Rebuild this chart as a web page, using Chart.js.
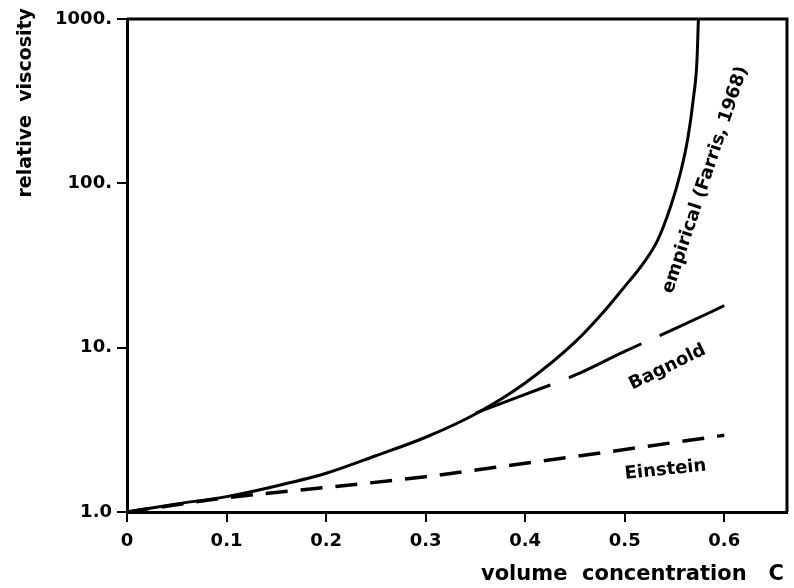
<!DOCTYPE html>
<html>
<head>
<meta charset="utf-8">
<script src="https://cdn.jsdelivr.net/npm/chart.js@4"></script>
<style>
  html, body { margin: 0; padding: 0; background: #fff; }
  #wrap { width: 794px; height: 588px; }
</style>
</head>
<body>
<div id="wrap"><canvas id="c" width="794" height="588"></canvas></div>
<script>
// ---- data ----
const empiricalC = [0, 0.05, 0.1, 0.15, 0.2, 0.25, 0.3, 0.35, 0.4, 0.45, 0.478, 0.503, 0.516, 0.533, 0.546, 0.556, 0.5635, 0.569, 0.5725, 0.574];
const empiricalV = [1, 1.12, 1.24, 1.44, 1.72, 2.2, 2.85, 3.95, 6.1, 10.8, 16.3, 24.8, 31, 45, 72, 116, 190, 330, 550, 1000];
const bagnoldC = [0.35, 0.4, 0.45, 0.5, 0.55, 0.6];
const bagnoldV = [4.0, 5.2, 6.8, 9.5, 13, 18];
const einsteinC = [0, 0.1, 0.2, 0.3, 0.4, 0.5, 0.6];
const einsteinV = [1, 1.22, 1.41, 1.64, 1.98, 2.4, 2.93];
const xTickValues = [0, 0.1, 0.2, 0.3, 0.4, 0.5, 0.6];
const xTickLabels = ["0", "0.1", "0.2", "0.3", "0.4", "0.5", "0.6"];
const yTickValues = [1, 10, 100, 1000];
const yTickLabels = ["1.0", "10.", "100.", "1000."];
const curveLabels = ["empirical (Farris, 1968)", "Bagnold", "Einstein"];
const xTitle = "volume  concentration   C";
const yTitle = "relative  viscosity";

const toPts = (xs, ys) => xs.map((x, i) => ({ x: x, y: ys[i] }));
const FONT = "'DejaVu Sans', sans-serif";

// label placement (layout, in data coords + angle)
const labelPlacement = [
  { text: curveLabels[0], x: 0.581, y: 105, angle: -71.6 },
  { text: curveLabels[1], x: 0.543, y: 7.6, angle: -26 },
  { text: curveLabels[2], x: 0.541, y: 1.8, angle: -6 }
];

const framePlugin = {
  id: 'frame',
  afterDraw(chart) {
    const { ctx, chartArea: a } = chart;
    ctx.save();
    ctx.strokeStyle = '#000';
    ctx.lineWidth = 3;
    ctx.beginPath();
    ctx.moveTo(a.left, a.top);
    ctx.lineTo(a.right, a.top);
    ctx.lineTo(a.right, a.bottom);
    ctx.stroke();
    const xs = chart.scales.x, ys = chart.scales.y;
    ctx.fillStyle = '#000';
    // curve labels
    ctx.font = "bold 18px " + FONT;
    ctx.textAlign = 'center';
    ctx.textBaseline = 'middle';
    labelPlacement.forEach(l => {
      ctx.save();
      ctx.translate(xs.getPixelForValue(l.x), ys.getPixelForValue(l.y));
      ctx.rotate(l.angle * Math.PI / 180);
      ctx.fillText(l.text, 0, 0);
      ctx.restore();
    });
    // axis titles
    ctx.font = "bold 19px " + FONT;
    ctx.save();
    ctx.translate(26, 8);
    ctx.rotate(-Math.PI / 2);
    ctx.textAlign = 'right';
    ctx.textBaseline = 'middle';
    ctx.fillText(yTitle, 0, 0);
    ctx.restore();
    ctx.font = "bold 21px " + FONT;
    ctx.textAlign = 'right';
    ctx.textBaseline = 'middle';
    ctx.fillText(xTitle, 784, 575);
    ctx.restore();
  }
};

new Chart(document.getElementById('c'), {
  type: 'line',
  data: {
    datasets: [
      { label: 'empirical', data: toPts(empiricalC, empiricalV), borderColor: '#000', borderWidth: 3, pointRadius: 0, cubicInterpolationMode: 'monotone', fill: false },
      { label: 'Bagnold', data: toPts(bagnoldC, bagnoldV), borderColor: '#000', borderWidth: 3, borderDash: [80, 20], pointRadius: 0, cubicInterpolationMode: 'monotone', fill: false },
      { label: 'Einstein', data: toPts(einsteinC, einsteinV), borderColor: '#000', borderWidth: 3.5, borderDash: [22, 13], pointRadius: 0, cubicInterpolationMode: 'monotone', fill: false }
    ]
  },
  options: {
    responsive: false,
    animation: false,
    layout: { padding: { left: 0, top: 19, right: 7, bottom: 0 } },
    plugins: { legend: { display: false }, tooltip: { enabled: false } },
    scales: {
      x: {
        type: 'linear', min: 0, max: 0.663,
        afterBuildTicks: s => { s.ticks = xTickValues.map(v => ({ value: v })); },
        afterFit: s => { s.height = 76; },
        ticks: { color: '#000', font: { family: FONT, size: 18, weight: 'bold' }, padding: 9, maxRotation: 0,
                 callback: (v, i) => xTickLabels[i] },
        grid: { drawOnChartArea: false, drawTicks: true, tickLength: 10, color: '#000', lineWidth: 2 },
        border: { color: '#000', width: 3 },
        title: { display: false }
      },
      y: {
        type: 'logarithmic', min: 1, max: 1000,
        afterBuildTicks: s => { s.ticks = yTickValues.map(v => ({ value: v })); },
        afterFit: s => { s.width = 127; },
        ticks: { color: '#000', font: { family: FONT, size: 18, weight: 'bold' }, padding: 5,
                 callback: (v, i) => yTickLabels[i] },
        grid: { drawOnChartArea: false, drawTicks: true, tickLength: 10, color: '#000', lineWidth: 2 },
        border: { color: '#000', width: 3 },
        title: { display: false }
      }
    }
  },
  plugins: [framePlugin]
});
</script>
</body>
</html>
